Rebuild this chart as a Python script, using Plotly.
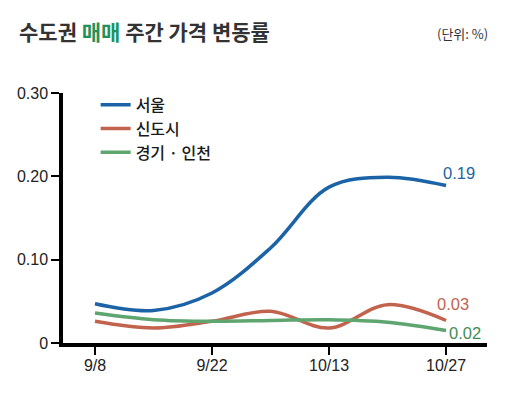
import plotly.graph_objects as go

dates = ["9/8", "9/15", "9/22", "9/29", "10/13", "10/20", "10/27"]
tick_labels = ["9/8", "9/22", "10/13", "10/27"]
seoul = [0.047, 0.039, 0.060, 0.114, 0.187, 0.199, 0.189]
newtown = [0.026, 0.018, 0.026, 0.038, 0.018, 0.046, 0.027]
gyeonggi = [0.036, 0.028, 0.026, 0.027, 0.028, 0.025, 0.015]
end_labels = ["0.19", "0.03", "0.02"]

names = ["서울", "신도시", "경기 · 인천"]
colors = ["#1b63a6", "#c2634e", "#5ea56f"]
label_colors = ["#1b63a6", "#c2634e", "#3f8d56"]
series = [seoul, newtown, gyeonggi]

x = list(range(len(dates)))
tickvals = [dates.index(t) for t in tick_labels]

FONT = "Liberation Sans, Arial, Noto Sans CJK KR, sans-serif"
KFONT = "Noto Sans CJK KR, sans-serif"

fig = go.Figure()
for name, vals, c in zip(names, series, colors):
    fig.add_trace(go.Scatter(
        x=x, y=vals, name=name, mode="lines",
        line=dict(color=c, width=3.5, shape="spline", smoothing=1.0),
        hoverinfo="skip",
    ))

shifts = [(-5, 13), (-11, 17), (1, -2)]
for vals, lab, c, (dx, dy) in zip(series, end_labels, label_colors, shifts):
    fig.add_annotation(
        x=x[-1], y=vals[-1], text=lab, showarrow=False,
        xanchor="left", yanchor="middle", xshift=dx, yshift=dy,
        font=dict(family=FONT, size=16.5, color=c),
    )

fig.add_annotation(
    xref="paper", yref="paper", x=-0.108, y=1.248, xanchor="left", yanchor="middle",
    text="<b>수도권 <span style='color:#23925a'>매매</span> 주간 가격 변동률</b>",
    showarrow=False, font=dict(family=KFONT, size=21, color="#333333"),
)
fig.add_annotation(
    xref="paper", yref="paper", x=1.007, y=1.237, xanchor="right", yanchor="middle",
    text="(단위: %)", showarrow=False,
    font=dict(family=KFONT, size=13, color="#333333"),
)

fig.update_layout(
    width=511, height=396,
    margin=dict(l=63, r=24, t=93, b=53),
    paper_bgcolor="white", plot_bgcolor="white",
    showlegend=True,
    legend=dict(
        x=0.077, y=1.021, xanchor="left", yanchor="top",
        bgcolor="rgba(0,0,0,0)", borderwidth=0,
        font=dict(family=KFONT, size=16, color="#1a1a1a", weight=500),
        tracegroupgap=0, itemwidth=30,
    ),
    xaxis=dict(
        range=[-0.547, 6.70], tickmode="array", tickvals=tickvals, ticktext=tick_labels,
        showgrid=False, zeroline=False, showline=True, linecolor="black", linewidth=3.5,
        ticks="outside", ticklen=8, tickwidth=2, tickcolor="black",
        ticklabelstandoff=-3,
        tickfont=dict(family=FONT, size=16, color="#222222"),
    ),
    yaxis=dict(
        range=[0, 0.30], tickmode="array", tickvals=[0, 0.1, 0.2, 0.3],
        ticktext=["0", "0.10", "0.20", "0.30"],
        showgrid=False, zeroline=False, showline=True, linecolor="black", linewidth=3.5,
        ticks="outside", ticklen=8, tickwidth=2, tickcolor="black",
        tickfont=dict(family=FONT, size=16, color="#222222"),
    ),
)

fig.write_html("out.html", post_script="document.body.style.margin='0';",
               config={"displayModeBar": False})
